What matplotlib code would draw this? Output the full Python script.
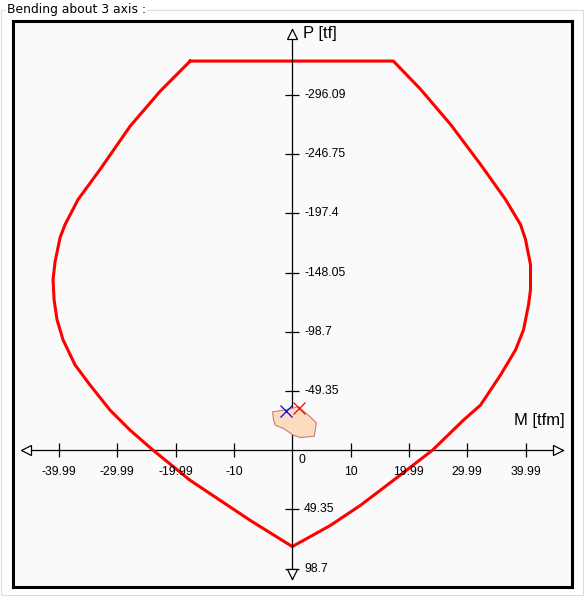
import matplotlib
matplotlib.use("Agg")
import matplotlib.pyplot as plt
from matplotlib.patches import Rectangle

plt.rcParams["font.family"] = ["Liberation Sans", "DejaVu Sans"]

# --- Interaction curve, M [tfm] vs P [tf] (compression negative, drawn upward) ---
curve_m = [-17.50, 17.32, 21.96, 27.10, 32.25, 36.54, 39.11, 39.97, 40.82, 40.82,
           40.48, 39.62, 38.25, 35.68, 32.25, 29.33, 24.01, 17.32, 11.66, 6.52,
           0.0, -7.20, -12.35, -17.50, -23.84, -27.79, -31.22, -34.65, -37.22,
           -39.28, -40.31, -40.82, -41.00, -40.65, -39.79, -38.94, -36.71,
           -32.93, -27.79, -22.64, -17.50]
curve_p = [-324.4, -324.4, -301.0, -271.7, -238.3, -209.0, -188.1, -175.6, -154.7,
           -133.8, -121.2, -100.3, -83.6, -62.7, -37.6, -25.1, 0.0, 25.1, 46.0,
           62.7, 80.3, 58.5, 41.8, 25.1, 0.0, -16.7, -33.4, -54.3, -71.1, -92.0,
           -108.7, -125.4, -142.1, -157.2, -177.3, -188.1, -209.0, -234.1,
           -270.1, -299.3, -324.4]

# --- Load set envelope ---
load_m = [-3.38, -1.49, 1.08, 3.09, 4.12, 3.77, 1.37, 0.22, -1.49, -2.92, -3.21]
load_p = [-32.0, -33.4, -36.2, -27.8, -22.8, -11.7, -10.6, -12.5, -18.1, -20.9, -25.1]

# --- Marked points ---
blue_m, blue_p = -1.08, -32.6
red_m, red_p = 1.08, -34.9

# --- Axis ticks ---
x_ticks = [-39.99, -29.99, -19.99, -10, 10, 19.99, 29.99, 39.99]
x_tick_labels = ["-39.99", "-29.99", "-19.99", "-10", "10", "19.99", "29.99", "39.99"]
y_ticks = [-296.09, -246.75, -197.4, -148.05, -98.7, -49.35, 49.35, 98.7]
y_tick_labels = ["-296.09", "-246.75", "-197.4", "-148.05", "-98.7", "-49.35", "49.35", "98.7"]

# axis extents (arrow tips)
m_end = 46.4
p_top, p_bottom = -351.1, 107.4

W, H = 584, 598
fig = plt.figure(figsize=(W / 100, H / 100), dpi=100, facecolor="white")

# group box border + caption
fig.patches.append(Rectangle((0.5 / W, 1 - 595 / H), 582 / W, 585 / H,
                             transform=fig.transFigure, fill=False,
                             edgecolor="#dcdcdc", linewidth=0.8))
fig.text(7 / W, 1 - 10 / H, "Bending about 3 axis :", fontsize=8.9, va="center",
         ha="left", family="DejaVu Sans",
         bbox=dict(facecolor="white", edgecolor="none", pad=1.0))

ax = fig.add_axes([13 / W, 1 - 587 / H, 559 / W, 566 / H])
ax.set_facecolor("#fafafa")
for s in ax.spines.values():
    s.set_linewidth(2.2)
    s.set_color("black")
ax.set_xticks([])
ax.set_yticks([])
ax.set_xlim(-47.86, 47.93)
ax.set_ylim(114.0, -357.8)

# x axis with ticks and hollow arrowheads
ax.plot([-m_end, m_end], [0, 0], color="black", linewidth=0.9, zorder=1)
ax.plot(x_ticks, [0] * len(x_ticks), "|", color="black", markersize=9.6,
        markeredgewidth=0.9, zorder=1)
ax.plot([-m_end + 0.8], [0], "<", markersize=6.8, mfc="white", mec="black",
        mew=0.9, zorder=2)
ax.plot([m_end - 0.8], [0], ">", markersize=6.8, mfc="white", mec="black",
        mew=0.9, zorder=2)

# interaction curve
ax.plot(curve_m, curve_p, color="#ff0000", linewidth=2.2, zorder=3,
        solid_joinstyle="round")

# y axis with ticks and hollow arrowheads
ax.plot([0, 0], [p_top, p_bottom], color="black", linewidth=0.9, zorder=4)
ax.plot([0] * len(y_ticks), y_ticks, "_", color="black", markersize=9.6,
        markeredgewidth=0.9, zorder=4)
ax.plot([0], [p_top + 3.9], "^", markersize=6.8, mfc="white", mec="black",
        mew=0.9, zorder=5)
ax.plot([0], [p_bottom - 3.9], "v", markersize=6.8, mfc="white", mec="black",
        mew=0.9, zorder=5)

# load envelope and points
ax.fill(load_m, load_p, facecolor="#fcdcc0", edgecolor="#d07a70", linewidth=0.8,
        zorder=6)
ax.plot([blue_m], [blue_p], "x", color="#0000ff", markersize=8, mew=0.9, zorder=7)
ax.plot([red_m], [red_p], "x", color="#ff0000", markersize=8, mew=0.9, zorder=7)

# tick labels
for v, lab in zip(x_ticks, x_tick_labels):
    ax.annotate(lab, (v, 0), xytext=(0, -15.5), textcoords="offset points",
                ha="center", va="center", fontsize=8.7)
ax.annotate("0", (0, 0), xytext=(7, -6.8), textcoords="offset points",
            ha="center", va="center", fontsize=8.7)
for v, lab in zip(y_ticks, y_tick_labels):
    ax.annotate(lab, (0, v), xytext=(8.5, 0), textcoords="offset points",
                ha="left", va="center", fontsize=8.7)

# axis titles
ax.annotate("P [tf]", (0, p_top), xytext=(8, -3), textcoords="offset points",
            ha="left", va="center", fontsize=12)
ax.annotate("M [tfm]", (m_end, 0), xytext=(1.2, 21.5), textcoords="offset points",
            ha="right", va="center", fontsize=12)

fig.savefig("out.png", dpi=100, facecolor="white")
